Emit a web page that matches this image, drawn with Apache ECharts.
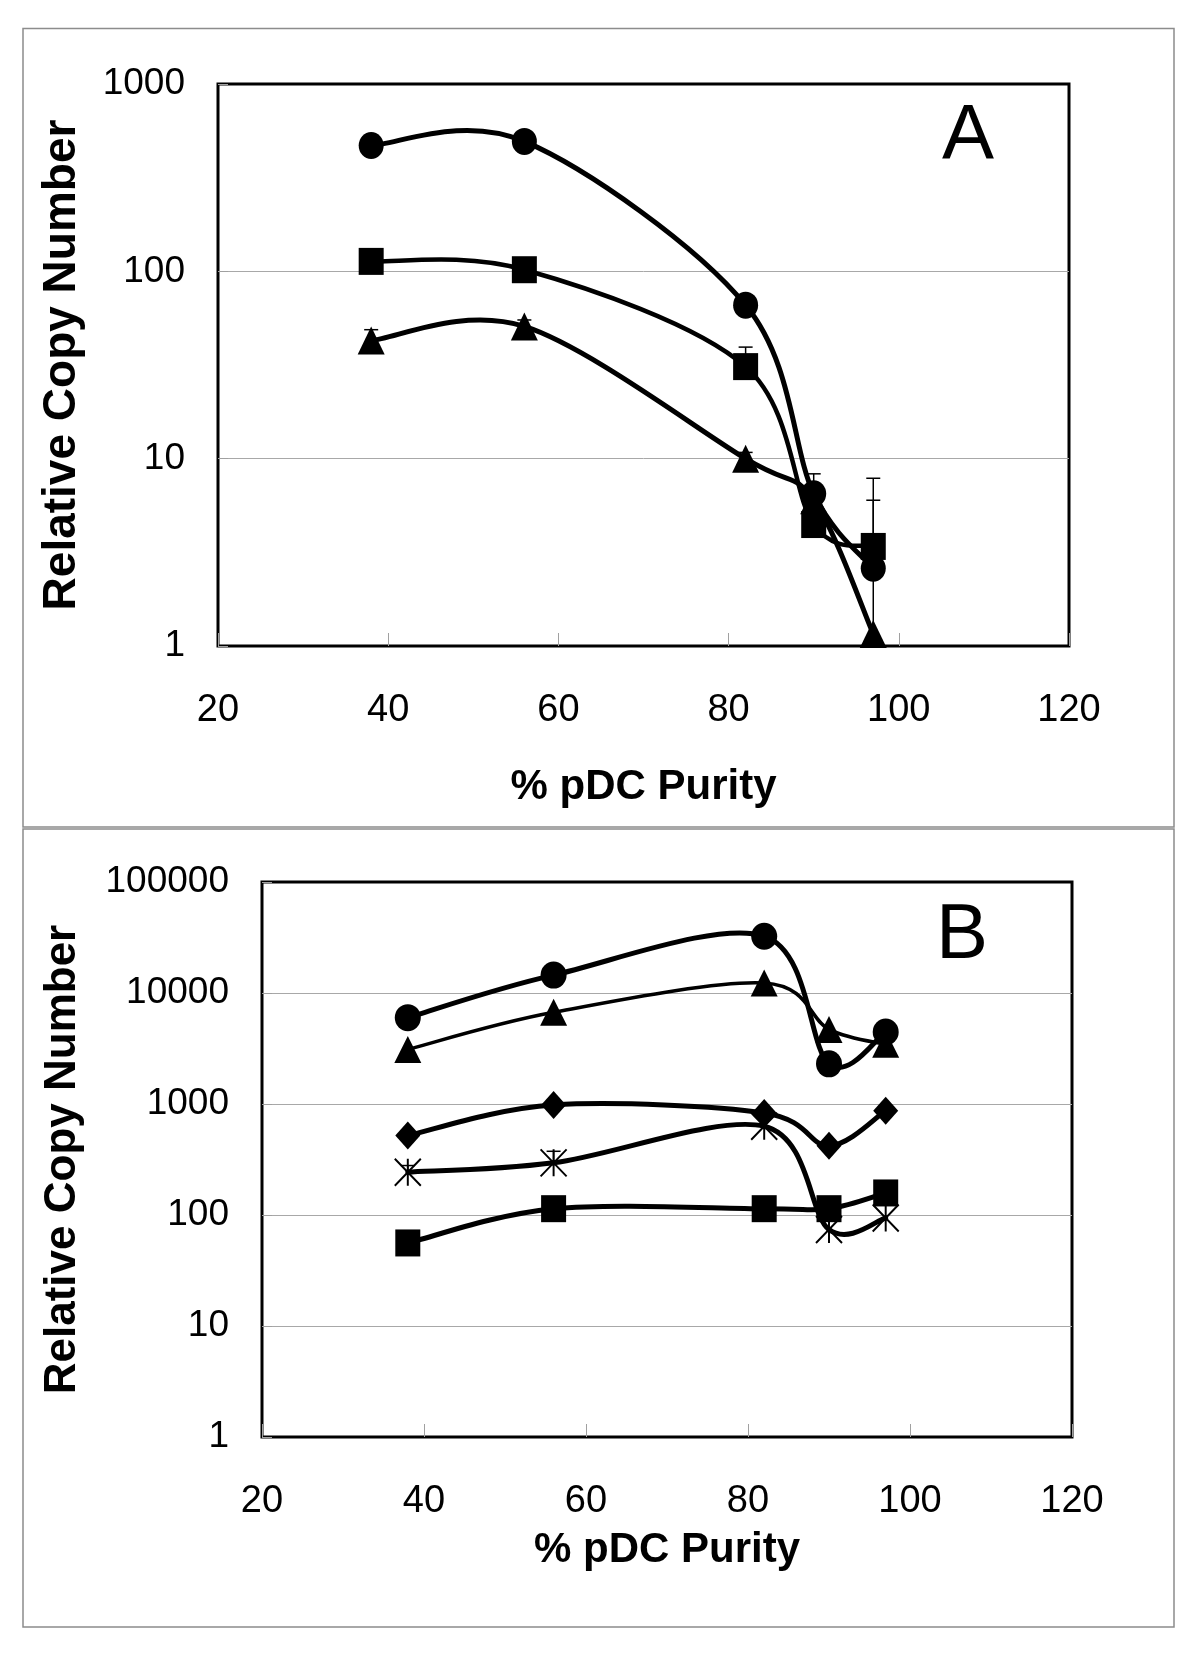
<!DOCTYPE html>
<html>
<head>
<meta charset="utf-8">
<script src="https://cdn.jsdelivr.net/npm/echarts@6/dist/echarts.min.js"></script>
<style>
html,body{margin:0;padding:0;background:#ffffff;}
#chart{width:1200px;height:1657px;}
</style>
</head>
<body>
<div id="chart"></div>
<script>
// ---------- data ----------
const PURITY = [38, 56, 82, 90, 97];            // % pDC purity (x)
const X_TICK_LABELS = [20, 40, 60, 80, 100, 120];
const Y_TICK_LABELS_A = [1, 10, 100, 1000];
const Y_TICK_LABELS_B = [1, 10, 100, 1000, 10000, 100000];

// Panel A
const A_CIRCLE   = [470, 494, 66, 6.5, 2.6];
const A_SQUARE   = [113, 102, 31, 4.45, 3.4];
const A_TRIANGLE = [42.7, 50.8, 10.0, 6.0, 1.16];
// plus error bars (0 = none visible)
const A_CIRCLE_ERR   = [0, 0, 0, 1.8, 3.4];
const A_SQUARE_ERR   = [0, 0, 8.4, 0, 0];
const A_TRIANGLE_ERR = [6.1, 4.2, 0.8, 0, 6.7];

// Panel B
const B_CIRCLE   = [6000, 14500, 32500, 2300, 4450];
const B_TRIANGLE = [3100, 6700, 12300, 4700, 3450];
const B_DIAMOND  = [520, 980, 830, 420, 870];
const B_STAR     = [243, 295, 630, 74, 94];
const B_SQUARE   = [56, 114, 114, 114, 158];
const B_STAR_ERR = [36, 80, 0, 0, 0];

// ---------- helpers ----------
const REG = "'Liberation Sans', Arial, sans-serif";
const STAR_PATH = 'path://M0 0L20 20M20 0L0 20M10 0L10 20';

const pairs = ys => PURITY.map((x, i) => [x, ys[i]]);
const errData = (ys, errs) => PURITY.map((x, i) => [x, ys[i], ys[i] + errs[i]]).filter(d => d[2] > d[1]);

function curveSeries(idx, ys, width) {
  return {
    type: 'custom', xAxisIndex: idx, yAxisIndex: idx, data: pairs(ys),
    encode: {x: 0, y: 1}, clip: false, silent: true, z: 2,
    renderItem: function (params, api) {
      const i = params.dataIndexInside, n = params.dataInsideLength;
      if (i >= n - 1) return null;
      const P = k => {
        k = Math.max(0, Math.min(n - 1, k));
        return api.coord([api.value(0, k), api.value(1, k)]);
      };
      const p0 = P(i - 1), p1 = P(i), p2 = P(i + 1), p3 = P(i + 2);
      const t = 1 / 6;
      return {
        type: 'bezierCurve',
        shape: {
          x1: p1[0], y1: p1[1], x2: p2[0], y2: p2[1],
          cpx1: p1[0] + (p2[0] - p0[0]) * t, cpy1: p1[1] + (p2[1] - p0[1]) * t,
          cpx2: p2[0] - (p3[0] - p1[0]) * t, cpy2: p2[1] - (p3[1] - p1[1]) * t
        },
        style: {stroke: '#000', lineWidth: width, fill: null, lineJoin: 'round', lineCap: 'round'}
      };
    }
  };
}

function markerSeries(idx, ys, symbol, size, hollow) {
  return {
    type: 'scatter', xAxisIndex: idx, yAxisIndex: idx, data: pairs(ys),
    symbol: symbol, symbolSize: size, clip: false, silent: true, z: 4,
    itemStyle: hollow ? {color: 'rgba(0,0,0,0)', borderColor: '#000', borderWidth: 2, opacity: 1}
                      : {color: '#000', borderWidth: 0, opacity: 1}
  };
}

function errorSeries(idx, data) {
  return {
    type: 'custom', xAxisIndex: idx, yAxisIndex: idx, data: data,
    encode: {x: 0, y: [1, 2]}, clip: false, silent: true, z: 3,
    renderItem: function (params, api) {
      const lo = api.coord([api.value(0), api.value(1)]);
      const hi = api.coord([api.value(0), api.value(2)]);
      const cw = 7;
      return {
        type: 'group',
        children: [
          {type: 'line', shape: {x1: lo[0], y1: lo[1], x2: hi[0], y2: hi[1]}, style: {stroke: '#000', lineWidth: 1.5}},
          {type: 'line', shape: {x1: hi[0] - cw, y1: hi[1], x2: hi[0] + cw, y2: hi[1]}, style: {stroke: '#000', lineWidth: 1.5}}
        ]
      };
    }
  };
}

function xAxis(idx, labelMargin, nameGap) {
  return {
    gridIndex: idx, type: 'value',
    min: X_TICK_LABELS[0], max: X_TICK_LABELS[X_TICK_LABELS.length - 1],
    interval: X_TICK_LABELS[1] - X_TICK_LABELS[0],
    axisLine: {show: false},
    axisTick: {show: true, inside: true, length: 13, lineStyle: {color: '#a0a0a0', width: 1}},
    splitLine: {show: false},
    axisLabel: {margin: labelMargin, fontFamily: REG, fontSize: 38, color: '#000'},
    name: '% pDC Purity', nameLocation: 'middle', nameGap: nameGap,
    nameTextStyle: {fontFamily: REG, fontWeight: 'bold', fontSize: 42, color: '#000'}
  };
}

function yAxis(idx, ticks, nameGap, nameSize) {
  return {
    gridIndex: idx, type: 'log', logBase: 10,
    min: ticks[0], max: ticks[ticks.length - 1], splitNumber: ticks.length - 1,
    axisLine: {show: false},
    axisTick: {show: true, inside: true, length: 10, lineStyle: {color: '#a0a0a0', width: 1}},
    splitLine: {show: true, showMinLine: false, showMaxLine: false, lineStyle: {color: '#a8a8a8', width: 1}},
    axisLabel: {margin: 33, fontFamily: REG, fontSize: 37, color: '#000',
                formatter: v => String(Math.round(v))},
    name: 'Relative Copy Number', nameLocation: 'middle', nameGap: nameGap,
    nameTextStyle: {fontFamily: REG, fontWeight: 'bold', fontSize: nameSize, color: '#000'}
  };
}

const chart = echarts.init(document.getElementById('chart'), null, {renderer: 'canvas', width: 1200, height: 1657});

const option = {
  backgroundColor: '#ffffff',
  animation: false,
  grid: [
    {left: 218, top: 84, width: 851, height: 562, show: true, borderColor: '#000', borderWidth: 3, backgroundColor: 'transparent'},
    {left: 262, top: 882, width: 810, height: 555, show: true, borderColor: '#000', borderWidth: 3, backgroundColor: 'transparent'}
  ],
  xAxis: [xAxis(0, 46, 120), xAxis(1, 46, 92)],
  yAxis: [yAxis(0, Y_TICK_LABELS_A, 133, 46), yAxis(1, Y_TICK_LABELS_B, 177, 44)],
  graphic: [
    {type: 'rect', shape: {x: 23, y: 28.5, width: 1151, height: 798.5}, style: {fill: null, stroke: '#8c8c8c', lineWidth: 1.5}, silent: true},
    {type: 'rect', shape: {x: 23, y: 829, width: 1151, height: 798}, style: {fill: null, stroke: '#8c8c8c', lineWidth: 1.5}, silent: true},
    {type: 'text', x: 942, y: 98, silent: true,
     style: {text: 'A', font: "78px 'Liberation Sans', Arial, sans-serif", fill: '#000', align: 'left', verticalAlign: 'top', textAlign: 'left', textVerticalAlign: 'top'}},
    {type: 'text', x: 936, y: 897, silent: true,
     style: {text: 'B', font: "78px 'Liberation Sans', Arial, sans-serif", fill: '#000', align: 'left', verticalAlign: 'top', textAlign: 'left', textVerticalAlign: 'top'}}
  ],
  series: [
    // Panel A
    errorSeries(0, errData(A_CIRCLE, A_CIRCLE_ERR)),
    errorSeries(0, errData(A_SQUARE, A_SQUARE_ERR)),
    errorSeries(0, errData(A_TRIANGLE, A_TRIANGLE_ERR)),
    curveSeries(0, A_CIRCLE, 5),
    curveSeries(0, A_SQUARE, 4.5),
    curveSeries(0, A_TRIANGLE, 5),
    markerSeries(0, A_CIRCLE, 'circle', [25, 27]),
    markerSeries(0, A_SQUARE, 'rect', [25, 27]),
    markerSeries(0, A_TRIANGLE, 'triangle', [27, 28]),
    // Panel B
    errorSeries(1, errData(B_STAR, B_STAR_ERR)),
    curveSeries(1, B_CIRCLE, 5),
    curveSeries(1, B_TRIANGLE, 3.5),
    curveSeries(1, B_DIAMOND, 5),
    curveSeries(1, B_STAR, 5),
    curveSeries(1, B_SQUARE, 5),
    markerSeries(1, B_CIRCLE, 'circle', [26, 27]),
    markerSeries(1, B_TRIANGLE, 'triangle', [27, 27]),
    markerSeries(1, B_DIAMOND, 'diamond', [25, 28]),
    markerSeries(1, B_STAR, STAR_PATH, [26, 27], true),
    markerSeries(1, B_SQUARE, 'rect', [25, 27])
  ]
};
chart.setOption(option);
</script>
</body>
</html>
